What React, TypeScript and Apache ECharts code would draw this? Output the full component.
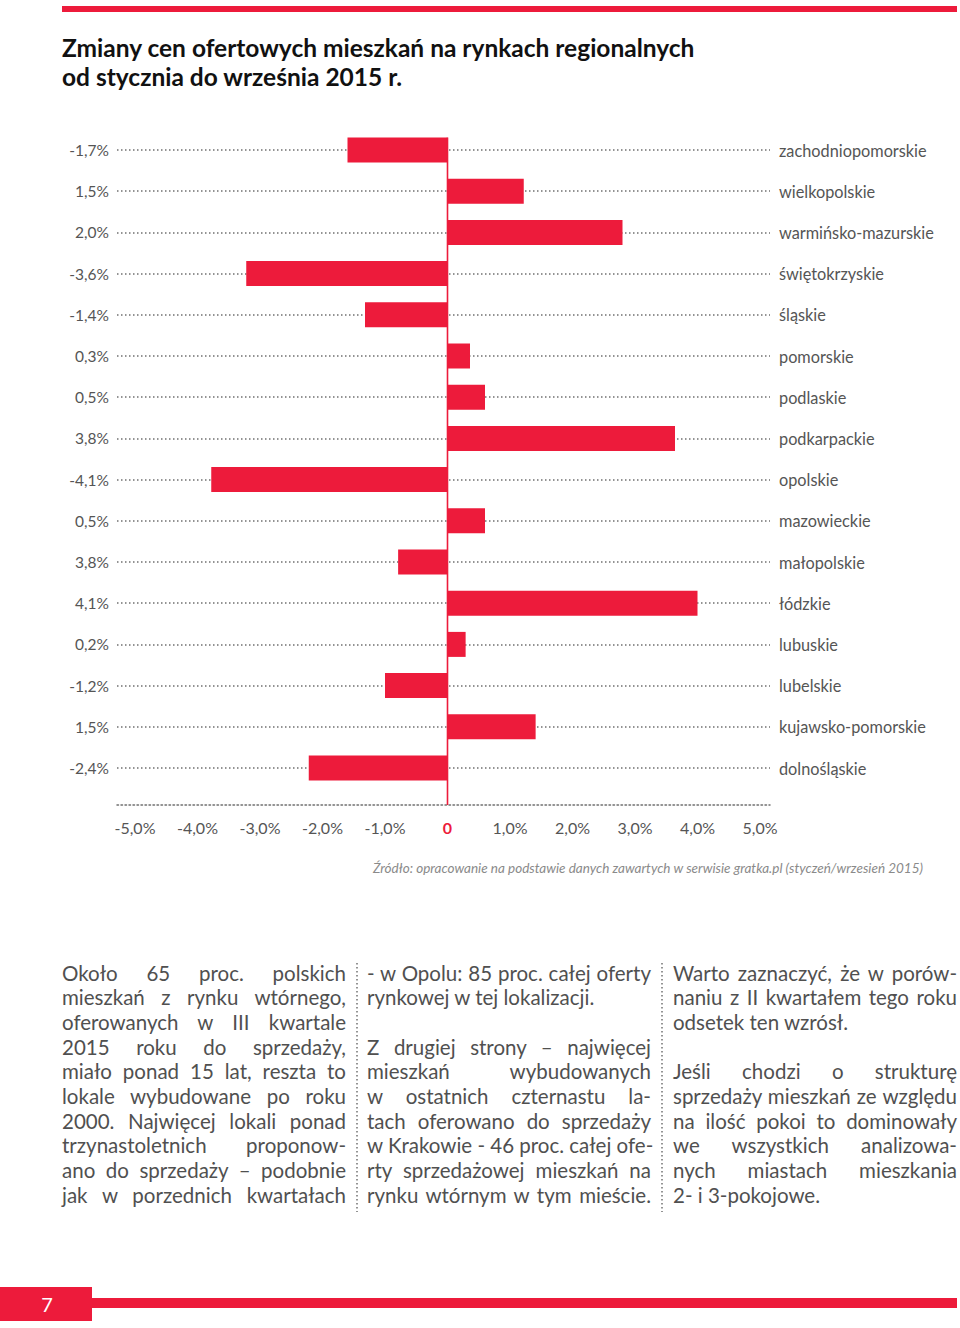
import React, { useEffect, useRef } from "react";
import * as echarts from "echarts";

// ---------- data ----------
const regions = [
  "zachodniopomorskie",
  "wielkopolskie",
  "warmińsko-mazurskie",
  "świętokrzyskie",
  "śląskie",
  "pomorskie",
  "podlaskie",
  "podkarpackie",
  "opolskie",
  "mazowieckie",
  "małopolskie",
  "łódzkie",
  "lubuskie",
  "lubelskie",
  "kujawsko-pomorskie",
  "dolnośląskie",
];
const printedLabels = [
  "-1,7%", "1,5%", "2,0%", "-3,6%", "-1,4%", "0,3%", "0,5%", "3,8%",
  "-4,1%", "0,5%", "3,8%", "4,1%", "0,2%", "-1,2%", "1,5%", "-2,4%",
];
// bar lengths as drawn in the picture (percent)
const barValues = [
  -1.6, 1.22, 2.8, -3.22, -1.32, 0.36, 0.6, 3.64,
  -3.78, 0.6, -0.79, 4.0, 0.29, -1.0, 1.41, -2.22,
];
const xTickValues = [-5, -4, -3, -2, -1, 0, 1, 2, 3, 4, 5];
const xTickLabels = ["-5,0%", "-4,0%", "-3,0%", "-2,0%", "-1,0%", "0", "1,0%", "2,0%", "3,0%", "4,0%", "5,0%"];

const TITLE = "Zmiany cen ofertowych mieszkań na rynkach regionalnych\nod stycznia do września 2015 r.";
const SOURCE = "Źródło: opracowanie na podstawie danych zawartych w serwisie gratka.pl (styczeń/wrzesień 2015)";

type Line = { t: string; j: boolean };
const col1: Line[] = [
  { t: "Około 65 proc. polskich", j: true },
  { t: "mieszkań z rynku wtórnego,", j: true },
  { t: "oferowanych w III kwartale", j: true },
  { t: "2015 roku do sprzedaży,", j: true },
  { t: "miało ponad 15 lat, reszta to", j: true },
  { t: "lokale wybudowane po roku", j: true },
  { t: "2000. Najwięcej lokali ponad", j: true },
  { t: "trzynastoletnich proponow-", j: true },
  { t: "ano do sprzedaży – podobnie", j: true },
  { t: "jak w porzednich kwartałach", j: true },
];
const col2: Line[] = [
  { t: "- w Opolu: 85 proc. całej oferty", j: true },
  { t: "rynkowej w tej lokalizacji.", j: false },
  { t: "", j: false },
  { t: "Z drugiej strony – najwięcej", j: true },
  { t: "mieszkań wybudowanych", j: true },
  { t: "w ostatnich czternastu la-", j: true },
  { t: "tach oferowano do sprzedaży", j: true },
  { t: "w Krakowie - 46 proc. całej ofe-", j: true },
  { t: "rty sprzedażowej mieszkań na", j: true },
  { t: "rynku wtórnym w tym mieście.", j: true },
];
const col3: Line[] = [
  { t: "Warto zaznaczyć, że w porów-", j: true },
  { t: "naniu z II kwartałem tego roku", j: true },
  { t: "odsetek ten wzrósł.", j: false },
  { t: "", j: false },
  { t: "Jeśli chodzi o strukturę", j: true },
  { t: "sprzedaży mieszkań ze względu", j: true },
  { t: "na ilość pokoi to dominowały", j: true },
  { t: "we wszystkich analizowa-", j: true },
  { t: "nych miastach mieszkania", j: true },
  { t: "2- i 3-pokojowe.", j: false },
];

// ---------- layout / style ----------
const W = 960;
const H = 1328;
const RED = "#ed1b3b";
const GREY = "#555555";
const DOT = "#707070";
const FONT = "Lato, 'Open Sans', sans-serif";
const GRID_LEFT = 117;
const GRID_RIGHT_X = 770;
const ROW0 = 150;
const ROW_STEP = 41.2;
const AXIS_Y = 805;
const ZERO_X = 447.5;
const PX_PER_UNIT = 62.5;
const BAR_W = 25;
const GRID_TOP = ROW0 - ROW_STEP / 2;
const GRID_H = ROW_STEP * regions.length;
const X_MIN = (GRID_LEFT - ZERO_X) / PX_PER_UNIT;
const X_MAX = (GRID_RIGHT_X - ZERO_X) / PX_PER_UNIT;
const LH = 24.67;
const TEXT_TOP = 960.7;

const dotted = { color: DOT, width: 1.5, type: [1.5, 2.5] as number[] };

function baseGraphics(): any[] {
  return [
    { type: "rect", shape: { x: 62, y: 6, width: 895, height: 6 }, style: { fill: RED } },
    {
      type: "text",
      x: 62,
      y: 33,
      style: {
        text: TITLE,
        fontSize: 24.5,
        fontWeight: "bold",
        fontFamily: FONT,
        fill: "#111111",
        lineHeight: 29,
        align: "left",
        verticalAlign: "top",
      },
    },
    {
      type: "text",
      x: 923,
      y: 868,
      style: {
        text: SOURCE,
        fontSize: 13.5,
        fontStyle: "italic",
        fontFamily: FONT,
        fill: "#8a8a8a",
        align: "right",
        verticalAlign: "middle",
      },
    },
    {
      type: "line",
      shape: { x1: 357, y1: 963, x2: 357, y2: 1212 },
      style: { stroke: DOT, lineWidth: 1.5, lineDash: [1.5, 2.5] },
    },
    {
      type: "line",
      shape: { x1: 662, y1: 963, x2: 662, y2: 1212 },
      style: { stroke: DOT, lineWidth: 1.5, lineDash: [1.5, 2.5] },
    },
    { type: "rect", shape: { x: 0, y: 1287, width: 92, height: 34 }, style: { fill: RED } },
    { type: "rect", shape: { x: 92, y: 1298, width: 865, height: 10 }, style: { fill: RED } },
    {
      type: "text",
      x: 47,
      y: 1304,
      style: {
        text: "7",
        fontSize: 20,
        fontFamily: FONT,
        fill: "#ffffff",
        align: "center",
        verticalAlign: "middle",
      },
    },
  ];
}

function Column({ left, lines }: { left: number; lines: Line[] }) {
  return (
    <div
      style={{
        position: "absolute",
        left,
        top: TEXT_TOP,
        width: 284,
        fontFamily: FONT,
        fontSize: 20.5,
        color: "#505050",
      }}
    >
      {lines.map((l, i) => (
        <div
          key={i}
          style={{
            height: LH,
            lineHeight: LH + "px",
            whiteSpace: "nowrap",
            textAlign: l.j ? "justify" : "left",
            textAlignLast: l.j ? "justify" : "left",
          } as any}
        >
          {l.t || "\u00a0"}
        </div>
      ))}
    </div>
  );
}

export default function App() {
  const ref = useRef<HTMLDivElement>(null);

  useEffect(() => {
    if (!ref.current) return;
    const chart = echarts.init(ref.current, null, { renderer: "svg", width: W, height: H });
    const option: any = {
      animation: false,
      textStyle: { fontFamily: FONT },
      grid: {
        left: GRID_LEFT,
        top: GRID_TOP,
        width: GRID_RIGHT_X - GRID_LEFT,
        height: GRID_H,
        containLabel: false,
        outerBoundsMode: "none",
      },
      xAxis: {
        type: "value",
        min: X_MIN,
        max: X_MAX,
        offset: AXIS_Y - (GRID_TOP + GRID_H),
        axisLine: { show: true, onZero: false, lineStyle: dotted },
        axisTick: { show: false },
        splitLine: { show: false },
        axisLabel: {
          customValues: xTickValues,
          margin: 14,
          fontSize: 16,
          color: GREY,
          formatter: (v: number) => {
            const i = xTickValues.findIndex((t) => Math.abs(t - v) < 1e-6);
            const s = i >= 0 ? xTickLabels[i] : "";
            return v === 0 ? "{z|" + s + "}" : s;
          },
          rich: { z: { color: RED, fontWeight: "bold", fontSize: 16 } },
        },
      },
      yAxis: [
        {
          type: "category",
          inverse: true,
          data: regions,
          axisLine: { show: false },
          axisTick: { show: false },
          splitLine: { show: false },
          axisLabel: {
            margin: 8,
            fontSize: 15.5,
            color: GREY,
            formatter: (_v: string, i: number) => printedLabels[i],
          },
        },
        {
          type: "category",
          inverse: true,
          position: "right",
          data: regions,
          axisLine: { show: false },
          axisTick: { show: false },
          splitLine: { show: false },
          axisLabel: { margin: 9, fontSize: 16.3, color: GREY },
        },
      ],
      series: [
        {
          type: "line",
          data: [],
          yAxisIndex: 0,
          z: 1,
          silent: true,
          markLine: {
            silent: true,
            z: 1,
            symbol: "none",
            label: { show: false },
            lineStyle: dotted,
            emphasis: { disabled: true },
            data: regions.map((r) => ({ yAxis: r })),
          },
        },
        {
          type: "bar",
          yAxisIndex: 0,
          data: barValues,
          barWidth: BAR_W,
          z: 3,
          itemStyle: { color: RED },
        },
      ],
      graphic: baseGraphics(),
    };
    chart.setOption(option);
    const x0 = chart.convertToPixel({ xAxisIndex: 0 }, 0) as number;
    const yFirst = chart.convertToPixel({ yAxisIndex: 0 }, 0) as number;
    chart.setOption({
      graphic: [
        ...baseGraphics(),
        {
          type: "line",
          z: 10,
          shape: { x1: x0, y1: yFirst - BAR_W / 2, x2: x0, y2: AXIS_Y },
          style: { stroke: RED, lineWidth: 1.6 },
        },
      ],
    });
    return () => chart.dispose();
  }, []);

  return (
    <div style={{ position: "absolute", left: 0, top: 0, width: W, height: H, background: "#fff", overflow: "hidden" }}>
      <div ref={ref} style={{ position: "absolute", left: 0, top: 0, width: W, height: H }} />
      <Column left={62} lines={col1} />
      <Column left={367} lines={col2} />
      <Column left={673} lines={col3} />
    </div>
  );
}
